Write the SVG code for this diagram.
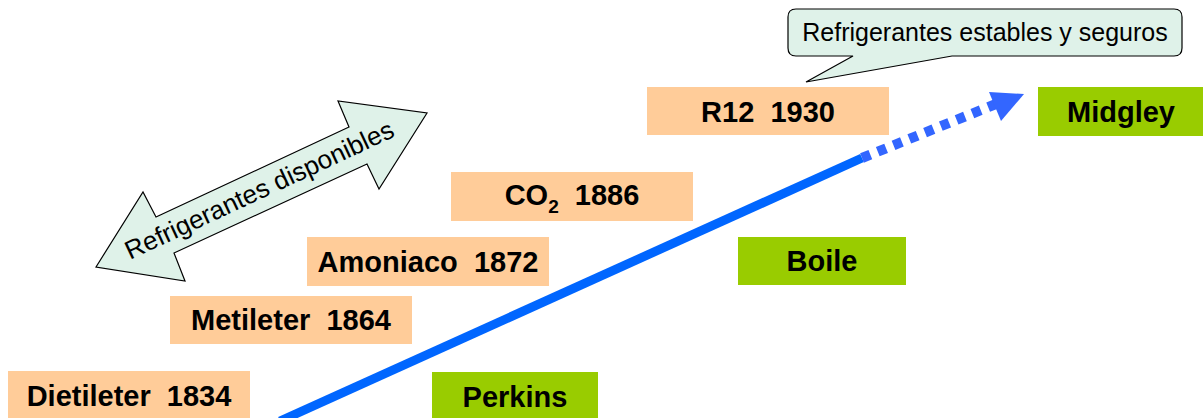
<svg xmlns="http://www.w3.org/2000/svg" width="1203" height="418" viewBox="0 0 1203 418">
  <style>
    .date { fill: #ffcc99; }
    .name { fill: #99cc00; }
    .lbl { font-family: "Liberation Sans", Arial, sans-serif; font-weight: bold; font-size: 29px; fill: #000; text-anchor: middle; white-space: pre; }
    .note { fill: #dff2e9; stroke: #000; stroke-width: 1.2; }
    .noteText { font-family: "Liberation Sans", Arial, sans-serif; fill: #000; white-space: pre; text-anchor: middle; }
  </style>

  <!-- timeline arrow -->
  <g id="connectors">
    <line x1="280" y1="421" x2="862" y2="158" stroke="#0066ff" stroke-width="9"/>
    <line x1="862" y1="158" x2="996" y2="104" stroke="#3366ff" stroke-width="10" stroke-dasharray="9 8"/>
    <polygon points="989,92 1024,94 1001,121" fill="#3366ff"/>
  </g>

  <!-- double arrow: available refrigerants -->
  <g id="disponibles">
    <polygon class="note" points="96,267 143,192 156,217 349,127 338,101 427,113 379,189 367,164 174,253 185,281"/>
    <text class="noteText" style="font-size:26px" transform="translate(263,198) rotate(-25)">Refrigerantes disponibles</text>
  </g>

  <!-- callout -->
  <g id="callout">
    <path class="note" d="M796,9 H1174 Q1182,9 1182,17 V48 Q1182,56 1174,56 H952 L806,82 L853,56 H796 Q788,56 788,48 V17 Q788,9 796,9 Z"/>
    <text class="noteText" style="font-size:25px" x="985" y="41">Refrigerantes estables y seguros</text>
  </g>

  <g id="dietileter">
    <rect class="date" x="8" y="371" width="242" height="50"/>
    <text class="lbl" x="129" y="406">Dietileter  1834</text>
  </g>
  <g id="metileter">
    <rect class="date" x="170" y="296" width="242" height="48"/>
    <text class="lbl" x="291" y="330">Metileter  1864</text>
  </g>
  <g id="amoniaco">
    <rect class="date" x="307" y="237" width="242" height="49"/>
    <text class="lbl" x="428" y="272">Amoniaco  1872</text>
  </g>
  <g id="co2">
    <rect class="date" x="451" y="172" width="242" height="49"/>
    <text class="lbl" x="572" y="205">CO<tspan font-size="19" dy="8">2</tspan><tspan dy="-8">  1886</tspan></text>
  </g>
  <g id="r12">
    <rect class="date" x="647" y="87" width="242" height="48"/>
    <text class="lbl" x="768" y="122">R12  1930</text>
  </g>

  <g id="perkins">
    <rect class="name" x="432" y="372" width="166" height="49"/>
    <text class="lbl" x="515" y="407">Perkins</text>
  </g>
  <g id="boile">
    <rect class="name" x="738" y="237" width="168" height="48"/>
    <text class="lbl" x="822" y="271">Boile</text>
  </g>
  <g id="midgley">
    <rect class="name" x="1038" y="87" width="168" height="49"/>
    <text class="lbl" x="1121" y="122">Midgley</text>
  </g>
</svg>
